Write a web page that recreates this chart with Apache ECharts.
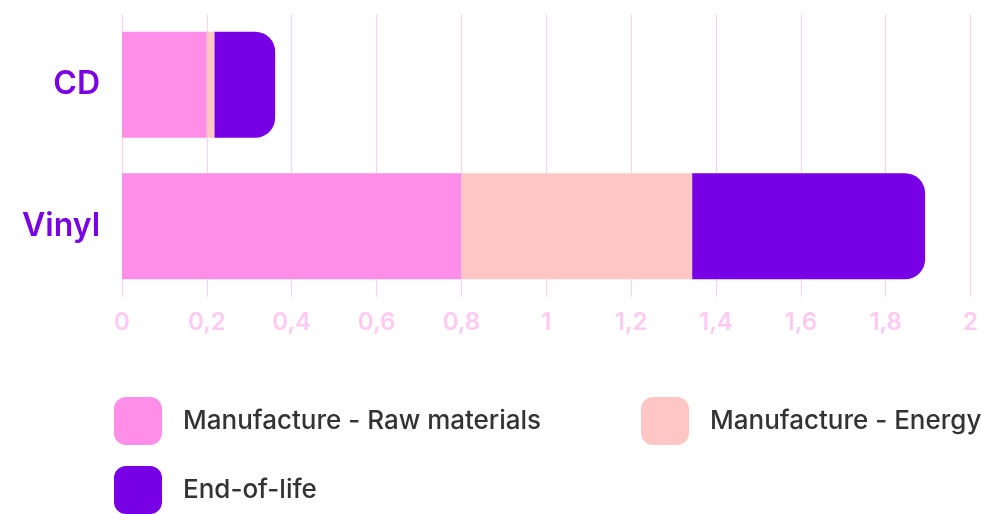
<!DOCTYPE html>
<html lang="en">
<head>
    <meta charset="UTF-8">
    <title>CD vs Vinyl</title>
    <script src="https://cdn.jsdelivr.net/npm/echarts@6/dist/echarts.min.js"></script>
    <style>
        html, body { margin: 0; padding: 0; background: #fff; }
        #chart { width: 981px; height: 514px; }
    </style>
</head>
<body>
<div id="chart"></div>
<script>
    const categories = ['CD', 'Vinyl'];
    const rawMaterials = [0.2, 0.8];
    const energy = [0.018, 0.544];
    const endOfLife = [0.143, 0.549];
    const seriesNames = ['Manufacture - Raw materials', 'Manufacture - Energy', 'End-of-life'];
    const colors = ['#ff8ee8', '#ffc6c6', '#7700e4'];

    const font = 'Inter';
    const chart = echarts.init(document.getElementById('chart'));

    // one legend per item so each sits where the reference has it
    function legendAt(left, top, name) {
        return {
            left: left,
            top: top,
            data: [name],
            icon: 'roundRect',
            itemWidth: 48,
            itemHeight: 48,
            selectedMode: false,
            textStyle: {
                fontFamily: font,
                fontSize: 26,
                fontWeight: 500,
                color: '#333',
                padding: [0, 0, 0, 16]
            }
        };
    }

    const option = {
        animation: false,
        grid: { left: 122, right: 8, top: 14, height: 283, containLabel: false },
        legend: [
            legendAt(109, 392, seriesNames[0]),
            legendAt(636, 392, seriesNames[1]),
            legendAt(109, 461, seriesNames[2])
        ],
        xAxis: {
            type: 'value',
            min: 0,
            max: 2,
            interval: 0.2,
            axisLine: { show: false },
            axisTick: { show: false },
            splitLine: { lineStyle: { color: '#ffd0f2', width: 1 } },
            axisLabel: {
                margin: 14,
                fontFamily: font,
                fontSize: 24,
                fontWeight: 600,
                color: '#ffcaf1',
                formatter: v => String(+v.toFixed(1)).replace('.', ',')
            }
        },
        yAxis: {
            type: 'category',
            data: categories,
            inverse: true,
            axisLine: { show: false },
            axisTick: { show: false },
            axisLabel: {
                margin: 22,
                fontFamily: font,
                fontSize: 32,
                fontWeight: 600,
                color: '#7a00e6'
            }
        },
        series: [
            { name: seriesNames[0], type: 'bar', stack: 'total', barWidth: 106, data: rawMaterials,
              itemStyle: { color: colors[0] } },
            { name: seriesNames[1], type: 'bar', stack: 'total', barWidth: 106, data: energy,
              itemStyle: { color: colors[1] } },
            { name: seriesNames[2], type: 'bar', stack: 'total', barWidth: 106, data: endOfLife,
              itemStyle: { color: colors[2], borderRadius: [0, 20, 20, 0] } }
        ]
    };
    chart.setOption(option);
</script>
</body>
</html>
